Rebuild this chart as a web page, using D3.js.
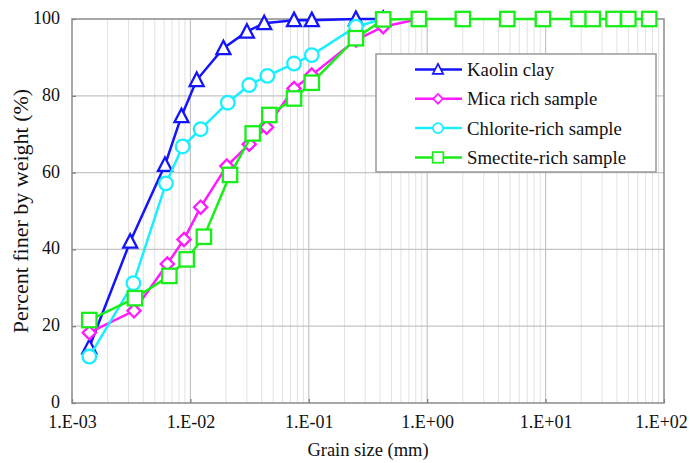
<!DOCTYPE html>
<html>
<head>
<meta charset="utf-8">
<script src="https://cdn.jsdelivr.net/npm/d3@7/dist/d3.min.js"></script>
<style>
  html, body { margin: 0; padding: 0; background: #fff; }
  svg text { font-family: "Liberation Serif", "Times New Roman", serif; fill: #111; }
</style>
</head>
<body>
<svg id="chart" width="690" height="463"></svg>
<script>
// Grain size distribution curves (log grain size vs. percent finer)
const kaolinSize = [0.0014, 0.0031, 0.0061, 0.0084, 0.0113, 0.019, 0.030, 0.042, 0.075, 0.106, 0.25, 0.425];
const kaolinPct  = [14.5, 42.0, 62.0, 74.7, 84.1, 92.4, 96.7, 98.9, 99.7, 99.7, 100, 100];

const micaSize = [0.0014, 0.00334, 0.00638, 0.00883, 0.0122, 0.0203, 0.0314, 0.044, 0.075, 0.106, 0.25, 0.425, 0.85];
const micaPct  = [18.3, 24.0, 36.2, 42.6, 51.0, 61.7, 67.4, 71.8, 81.9, 85.4, 94.5, 98.0, 100];

const chloriteSize = [0.0014, 0.0033, 0.00622, 0.0086, 0.0122, 0.0207, 0.0314, 0.0447, 0.075, 0.106, 0.25, 0.425];
const chloritePct  = [12.1, 31.2, 57.2, 66.8, 71.3, 78.2, 82.8, 85.2, 88.4, 90.6, 98.0, 100];

const smectiteSize = [0.0014, 0.0034, 0.00664, 0.0093, 0.013, 0.0216, 0.0336, 0.0464, 0.075, 0.106, 0.25, 0.425, 0.85, 2.0, 4.75, 9.5, 19, 25, 37.5, 50, 75];
const smectitePct  = [21.6, 27.3, 33.1, 37.4, 43.3, 59.4, 70.2, 75.0, 79.3, 83.4, 95.0, 99.9, 100, 100, 100, 100, 100, 100, 100, 100, 100];

const seriesNames = ["Kaolin clay", "Mica rich sample", "Chlorite-rich sample", "Smectite-rich sample"];
const xTickValues = [1e-3, 1e-2, 1e-1, 1e0, 1e1, 1e2];
const xTickLabels = ["1.E-03", "1.E-02", "1.E-01", "1.E+00", "1.E+01", "1.E+02"];
const yTickValues = [0, 20, 40, 60, 80, 100];

const series = [
  { name: seriesNames[0], size: kaolinSize,   pct: kaolinPct,   color: "#1414ff", marker: "triangle" },
  { name: seriesNames[1], size: micaSize,     pct: micaPct,     color: "#ff1aff", marker: "diamond" },
  { name: seriesNames[2], size: chloriteSize, pct: chloritePct, color: "#1aeeff", marker: "circle" },
  { name: seriesNames[3], size: smectiteSize, pct: smectitePct, color: "#1aee1a", marker: "square" }
];

const svg = d3.select("#chart");
const plotL = 72, plotR = 664, plotT = 19, plotB = 403;

const x = d3.scaleLog().domain([1e-3, 1e2]).range([plotL, plotR]);
const y = d3.scaleLinear().domain([0, 100]).range([plotB, plotT]);

// minor vertical gridlines (2..9 of each decade)
const minor = [];
for (let e = -3; e < 2; e++) for (let k = 2; k <= 9; k++) minor.push(k * Math.pow(10, e));
svg.append("g").selectAll("line").data(minor).join("line")
  .attr("x1", d => x(d)).attr("x2", d => x(d))
  .attr("y1", plotT).attr("y2", plotB)
  .attr("stroke", "#e2e2e2").attr("stroke-width", 1);

// major gridlines
svg.append("g").selectAll("line").data(xTickValues.slice(1, -1)).join("line")
  .attr("x1", d => x(d)).attr("x2", d => x(d))
  .attr("y1", plotT).attr("y2", plotB)
  .attr("stroke", "#c4c4c4").attr("stroke-width", 1.2);
svg.append("g").selectAll("line").data(yTickValues.slice(1, -1)).join("line")
  .attr("x1", plotL).attr("x2", plotR)
  .attr("y1", d => y(d)).attr("y2", d => y(d))
  .attr("stroke", "#c4c4c4").attr("stroke-width", 1.2);

// axes
const xAxis = d3.axisBottom(x).tickValues(xTickValues)
  .tickFormat((d, i) => xTickLabels[i]).tickSizeInner(-4).tickSizeOuter(0).tickPadding(12);
const gx = svg.append("g").attr("transform", `translate(0,${plotB})`).call(xAxis);
const yAxis = d3.axisLeft(y).tickValues(yTickValues).tickSizeInner(-4).tickSizeOuter(0).tickPadding(12);
const gy = svg.append("g").attr("transform", `translate(${plotL},0)`).call(yAxis);
[gx, gy].forEach(g => {
  g.select(".domain").remove();
  g.selectAll(".tick line").attr("stroke", "#777").attr("stroke-width", 1.2);
  g.selectAll(".tick text").attr("font-size", 18).attr("fill", "#111")
    .attr("font-family", "Liberation Serif, Times New Roman, serif");
});
gy.selectAll(".tick text").attr("dy", "0.25em");
// keep the last decade label inside the page edge
gx.selectAll(".tick text").filter((d, i) => i === xTickValues.length - 1).attr("dx", -3);

// frame
svg.append("rect").attr("x", plotL).attr("y", plotT)
  .attr("width", plotR - plotL).attr("height", plotB - plotT)
  .attr("fill", "none").attr("stroke", "#8a8a8a").attr("stroke-width", 1.5);

// markers
function drawMarker(sel, type, color) {
  if (type === "triangle") {
    sel.append("path").attr("d", "M0,-7.5 L7,6 L-7,6 Z");
  } else if (type === "diamond") {
    sel.append("path").attr("d", "M0,-6.6 L6.6,0 L0,6.6 L-6.6,0 Z");
  } else if (type === "circle") {
    sel.append("circle").attr("r", 6.8);
  } else {
    sel.append("rect").attr("x", -7.2).attr("y", -7.2).attr("width", 14.4).attr("height", 14.4);
  }
  sel.selectAll("path,circle,rect").attr("fill", "#fff").attr("stroke", color).attr("stroke-width", 2.3);
}

const line = d3.line().x(d => x(d[0])).y(d => y(d[1]));

series.forEach(s => {
  const pts = s.size.map((v, i) => [v, s.pct[i]]);
  const g = svg.append("g");
  g.append("path").datum(pts).attr("d", line)
    .attr("fill", "none").attr("stroke", s.color).attr("stroke-width", 2.5);
  g.selectAll("g.m").data(pts).join("g").attr("class", "m")
    .attr("transform", d => `translate(${x(d[0])},${y(d[1])})`)
    .each(function () { drawMarker(d3.select(this), s.marker, s.color); });
});

// legend
const lg = svg.append("g").attr("transform", "translate(376,54)");
lg.append("rect").attr("width", 280).attr("height", 118)
  .attr("fill", "#fff").attr("stroke", "#999").attr("stroke-width", 1.5);
series.forEach((s, i) => {
  const cy = 15.5 + i * 29.3;
  const item = lg.append("g").attr("transform", `translate(0,${cy})`);
  item.append("line").attr("x1", 39).attr("x2", 86).attr("y1", 0).attr("y2", 0)
    .attr("stroke", s.color).attr("stroke-width", 2.5);
  const m = item.append("g").attr("transform", "translate(62,0)");
  drawMarker(m, s.marker, s.color);
  m.selectAll("path,circle,rect").attr("transform", "scale(0.74)");
  item.append("text").attr("x", 91).attr("y", 6.5).attr("font-size", 18.8).text(s.name);
});

// axis titles
svg.append("text").attr("x", (plotL + plotR) / 2).attr("y", 456)
  .attr("text-anchor", "middle").attr("font-size", 18.5).text("Grain size (mm)");
svg.append("text").attr("transform", `translate(28,${(plotT + plotB) / 2}) rotate(-90)`)
  .attr("text-anchor", "middle").attr("font-size", 22).text("Percent finer by weight (%)");
</script>
</body>
</html>
